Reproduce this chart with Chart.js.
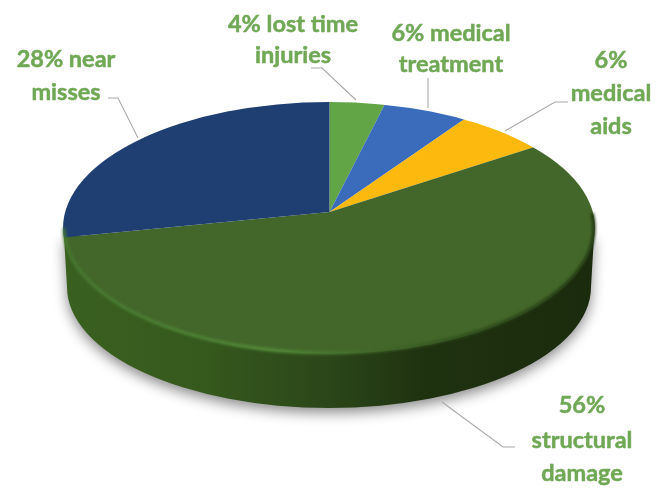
<!DOCTYPE html>
<html>
<head>
<meta charset="utf-8">
<style>html,body{margin:0;padding:0;background:#fff}canvas{display:block}</style>
<script src="https://cdn.jsdelivr.net/npm/chart.js@4"></script>
</head>
<body>
<canvas id="c" width="659" height="492"></canvas>
<script>
const categories = ['lost time injuries', 'medical treatment', 'medical aids', 'structural damage', 'near misses'];
const percentages = [4, 6, 6, 56, 28];
const sliceColors = ['#62a547', '#3b6cbc', '#fdb90e', '#43672a', '#1f3f73'];
const labelLines = [
  ['4% lost time', 'injuries'],
  ['6% medical', 'treatment'],
  ['6%', 'medical', 'aids'],
  ['56%', 'structural', 'damage'],
  ['28% near', 'misses']
];
const labelCentersX = [293, 451, 611, 582, 66];
const labelBaselinesY = [[32, 63], [41, 72], [68, 101, 134], [413, 448, 481], [67, 100]];
const leaderPaths = [
  [[311, 68], [322, 68], [356, 100]],
  [[428, 78], [428, 108]],
  [[568, 102], [555, 102], [505, 131]],
  [[515, 447], [503, 447], [442, 402]],
  [[108, 98], [118, 98], [138, 138]]
];
const faceEllipse = { cx: 329, cy: 228, rx: 266, ry: 126 };
const baseEllipse = { cx: 329, cy: 287, rx: 262, ry: 121 };
const tilt = 0.5;

const pie3d = {
  id: 'pie3d',
  beforeDatasetsDraw(chart) {
    const ctx = chart.ctx;
    const arcs = chart.getDatasetMeta(0).data;
    const f = faceEllipse, b = baseEllipse;

    // side wall with soft drop shadow
    const sideGrad = ctx.createLinearGradient(f.cx - f.rx, 0, f.cx + f.rx, 0);
    sideGrad.addColorStop(0, '#3a6020');
    sideGrad.addColorStop(0.25, '#365a1e');
    sideGrad.addColorStop(0.5, '#2b4619');
    sideGrad.addColorStop(0.68, '#1f3210');
    sideGrad.addColorStop(1, '#1b2b0d');
    ctx.save();
    ctx.shadowColor = 'rgba(0,0,0,0.45)';
    ctx.shadowBlur = 13;
    ctx.shadowOffsetY = 5;
    ctx.fillStyle = sideGrad;
    ctx.beginPath();
    ctx.ellipse(b.cx, b.cy, b.rx, b.ry, 0, 0, Math.PI);
    ctx.lineTo(f.cx - f.rx + 1, f.cy + 8);
    ctx.lineTo(f.cx + f.rx - 1, f.cy + 8);
    ctx.closePath();
    ctx.fill();
    ctx.restore();

    // top face: library arcs, flattened about the apex and clipped to the face outline
    ctx.save();
    ctx.beginPath();
    ctx.ellipse(f.cx, f.cy, f.rx, f.ry, 0, 0, Math.PI * 2);
    ctx.clip();
    const ax = arcs[0].x, ay = arcs[0].y;
    ctx.translate(ax, ay);
    ctx.scale(1, tilt);
    ctx.translate(-ax, -ay);
    arcs.forEach(a => a.draw(ctx));
    ctx.restore();

    // bevelled rim of the face
    const rimGrad = ctx.createLinearGradient(f.cx - f.rx, 0, f.cx + f.rx, 0);
    rimGrad.addColorStop(0, '#47792f');
    rimGrad.addColorStop(0.4, '#568f3b');
    rimGrad.addColorStop(0.6, '#3f6428');
    rimGrad.addColorStop(0.8, '#2a4418');
    rimGrad.addColorStop(1, '#1e300f');
    ctx.save();
    ctx.filter = 'blur(1.5px)';
    ctx.strokeStyle = rimGrad;
    ctx.lineWidth = 3;
    ctx.beginPath();
    ctx.ellipse(f.cx, f.cy, f.rx - 1, f.ry - 1, 0, -0.12, Math.PI);
    ctx.stroke();
    ctx.restore();
    return false;
  },
  afterDraw(chart) {
    const ctx = chart.ctx;
    ctx.save();
    ctx.strokeStyle = '#a9a9a9';
    ctx.lineWidth = 1.1;
    leaderPaths.forEach(path => {
      ctx.beginPath();
      path.forEach((p, i) => i ? ctx.lineTo(p[0], p[1]) : ctx.moveTo(p[0], p[1]));
      ctx.stroke();
    });
    ctx.fillStyle = '#70a856';
    ctx.strokeStyle = '#70a856';
    ctx.lineWidth = 0.5;
    ctx.font = 'bold 23.5px Lato';
    ctx.textAlign = 'center';
    ctx.textBaseline = 'alphabetic';
    labelLines.forEach((lines, i) => {
      lines.forEach((t, j) => {
        ctx.fillText(t, labelCentersX[i], labelBaselinesY[i][j]);
        ctx.strokeText(t, labelCentersX[i], labelBaselinesY[i][j]);
      });
    });
    ctx.restore();
  }
};

new Chart(document.getElementById('c'), {
  type: 'pie',
  data: {
    labels: categories,
    datasets: [{ data: percentages, backgroundColor: sliceColors, borderWidth: 0, radius: 800 }]
  },
  options: {
    responsive: false,
    animation: false,
    events: [],
    layout: { padding: { bottom: 68 } },
    plugins: { legend: { display: false }, tooltip: { enabled: false } }
  },
  plugins: [pie3d]
});
</script>
</body>
</html>
